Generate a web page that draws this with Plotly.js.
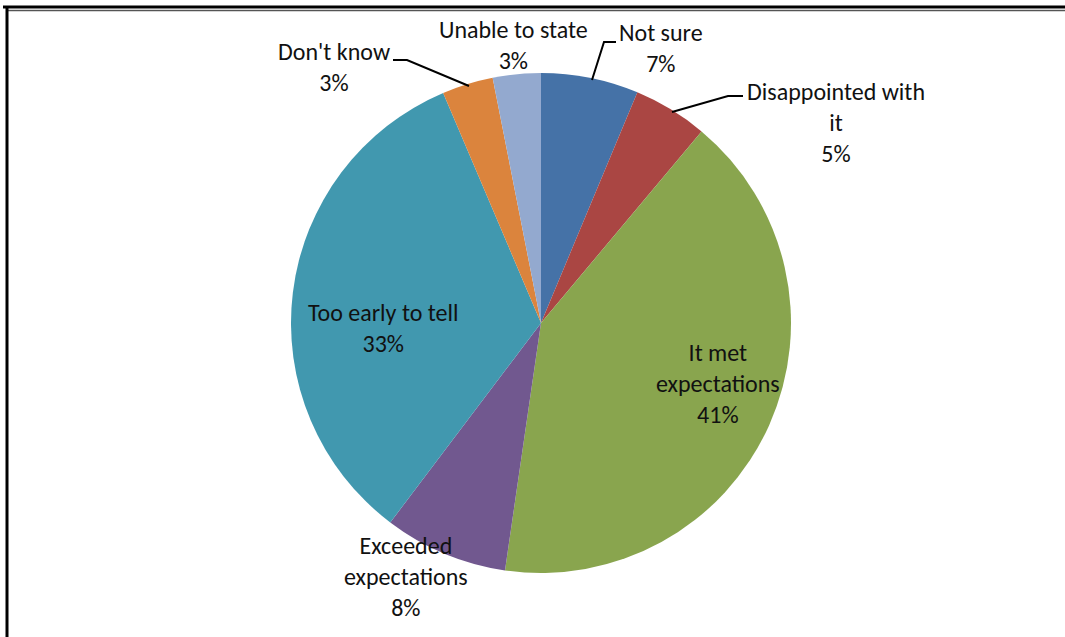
<!DOCTYPE html>
<html>
<head>
<meta charset="utf-8">
<script src="https://cdn.plot.ly/plotly-3.0.1.min.js"></script>
<style>html,body{margin:0;padding:0;background:#fff;}#chart{width:1065px;height:637px;}</style>
</head>
<body>
<div id="chart"></div>
<script>
// Data (clockwise from 12 o'clock)
const categories = ["Not sure", "Disappointed with<br>it", "It met<br>expectations", "Exceeded<br>expectations", "Too early to tell", "Don't know", "Unable to state"];
const values = [6.3, 4.8, 41.2, 8.0, 33.3, 3.3, 3.1];
const pctLabels = ["7%", "5%", "41%", "8%", "33%", "3%", "3%"];
const colors = ["#4572A7", "#AA4643", "#89A54E", "#71588F", "#4198AF", "#DB843D", "#93A9CF"];

const W = 1065, H = 637;
const px = x => x / W;
const py = y => 1 - y / H;

// label block centres (pixels) and leader lines
const labelPos = [[661, 48], [836, 122], [718, 384], [406, 576], [383, 328], [334, 67], [513, 45]];
const leaders = [
  [[616, 42], [604, 42], [592, 80]],
  [[743, 96], [728, 96], [672, 112]],
  null, null, null,
  [[393, 60], [407, 60], [469, 86]],
  null
];

const FONT = 'Carlito, Lato, "Open Sans", sans-serif';

const annotations = categories.map((c, i) => ({
  xref: 'paper', yref: 'paper',
  x: px(labelPos[i][0]), y: py(labelPos[i][1]),
  xanchor: 'center', yanchor: 'middle',
  text: c + '<br>' + pctLabels[i],
  showarrow: false,
  align: 'center',
  font: {family: FONT, size: 24, color: '#111'}
}));

const shapes = [];
leaders.forEach(l => {
  if (!l) return;
  const d = l.map((p, k) => (k ? 'L' : 'M') + px(p[0]) + ',' + py(p[1])).join(' ');
  shapes.push({type: 'path', xref: 'paper', yref: 'paper', path: d, line: {color: '#000', width: 2}});
});
// frame lines
shapes.push({type: 'line', xref: 'paper', yref: 'paper', x0: px(3), x1: 1, y0: py(7), y1: py(7), line: {color: '#000', width: 3}});
shapes.push({type: 'line', xref: 'paper', yref: 'paper', x0: px(7), x1: 1, y0: py(10.5), y1: py(10.5), line: {color: '#555', width: 1.5}});
shapes.push({type: 'line', xref: 'paper', yref: 'paper', x0: px(7), x1: px(7), y0: py(6), y1: 0, line: {color: '#000', width: 3}});

const trace = {
  type: 'pie',
  labels: categories,
  values: values,
  sort: false,
  direction: 'clockwise',
  rotation: 0,
  textinfo: 'none',
  hoverinfo: 'label+percent',
  marker: {colors: colors, line: {width: 0}},
  domain: {x: [px(291), px(791)], y: [py(573), py(73)]},
  showlegend: false
};

const layout = {
  width: W, height: H,
  margin: {l: 0, r: 0, t: 0, b: 0},
  paper_bgcolor: '#fff',
  plot_bgcolor: '#fff',
  showlegend: false,
  annotations: annotations,
  shapes: shapes
};

Plotly.newPlot('chart', [trace], layout, {displayModeBar: false, staticPlot: true});
</script>
</body>
</html>
